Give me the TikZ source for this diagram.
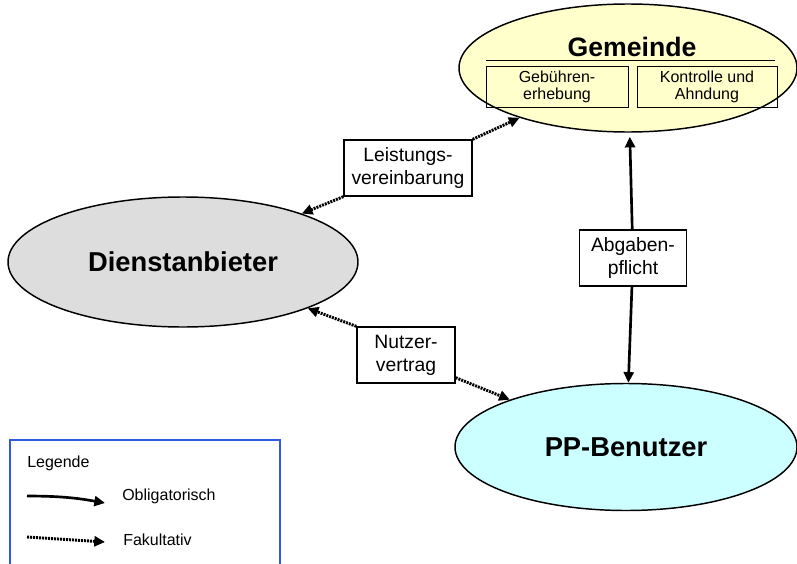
\documentclass[tikz,border=0pt]{standalone}
\usepackage{fontspec}
\setmainfont{Liberation Sans}
\usetikzlibrary{shapes.geometric,arrows.meta}

\definecolor{gemgelb}{RGB}{255,255,204}
\definecolor{ppcyan}{RGB}{204,255,255}
\definecolor{dienstgrau}{RGB}{221,221,221}
\definecolor{legblau}{RGB}{50,90,225}

\tikzset{
    rolle/.style={ellipse, draw, line width=1.1pt, inner sep=0pt, font=\fontsize{20.5}{24}\selectfont\bfseries},
    vertrag/.style={draw, rectangle, line width=1pt, align=center, minimum height=42pt, inner sep=2pt, font=\fontsize{14.5}{17.25}\selectfont},
    aufgabe/.style={draw, rectangle, line width=0.6pt, align=center, minimum height=30.75pt, inner sep=1pt, font=\fontsize{12}{12.75}\selectfont},
    legtext/.style={anchor=west, inner sep=0pt, font=\fontsize{12}{14}\selectfont},
    oblig/.style={line width=2pt, -{Triangle[length=8pt,width=7.5pt]}},
    fak/.style={line width=2.2pt, dash pattern=on 1.5pt off 0.75pt, -{Triangle[length=8pt,width=7.5pt]}}
}

\begin{document}
    \begin{tikzpicture}[x=0.75pt, y=-0.75pt]
        \useasboundingbox (0,0) rectangle (797,564);
        % die drei Rollen
        \node[rolle, fill=gemgelb, minimum width=253.5pt, minimum height=96pt] at (628,68) (gem) { };
        \node[rolle, fill=dienstgrau, minimum width=262.5pt, minimum height=97.5pt] at (183,262) (dienst) {Dienstanbieter};
        \node[rolle, fill=ppcyan, minimum width=256.5pt, minimum height=95.25pt] at (626,447) (pp) {PP-Benutzer};
        % Inhalt der Gemeinde
        \node[inner sep=0pt, font=\fontsize{20}{24}\selectfont\bfseries] at (632,47) (gemtitel) {Gemeinde};
        \draw[line width=0.7pt] (486,60) -- (775,60);
        \node[aufgabe, minimum width=106.5pt] at (557,87) (geb) {Gebühren-\\erhebung};
        \node[aufgabe, minimum width=105pt] at (707,87) (kon) {Kontrolle und\\Ahndung};
        % Vertragsbeziehungen
        \node[vertrag, minimum width=96pt] at (408,168) (lv) {Leistungs-\\vereinbarung};
        \node[vertrag, minimum width=73.5pt] at (406,355) (nv) {Nutzer-\\vertrag};
        \node[vertrag, minimum width=80pt] at (633,258) (ap) {Abgaben-\\pflicht};
        \draw[fak] (lv.north east) -- (gem);
        \draw[fak] (lv.south west) -- (dienst);
        \draw[fak] (nv.north west) -- (dienst);
        \draw[fak] ([yshift=4.5pt]nv.south east) -- (pp);
        \draw[oblig, shorten >=3pt] (ap) -- (gem);
        \draw[oblig] (ap) -- (pp);
        % Legende
        \draw[legblau, line width=1pt] (10,564) -- (10,440) -- (280,440) -- (280,564);
        \node[legtext] at (27,463) (leg) {Legende};
        \coordinate (o1) at (27,496);
        \coordinate (o2) at (105,503);
        \coordinate (f1) at (27,537);
        \coordinate (f2) at (105,542);
        \draw[oblig] (o1) to[bend left=5] (o2);
        \draw[fak] (f1) -- (f2);
        \node[legtext] at (122,496) (obl) {Obligatorisch};
        \node[legtext] at (123,540) (fakt) {Fakultativ};
    \end{tikzpicture}
\end{document}
